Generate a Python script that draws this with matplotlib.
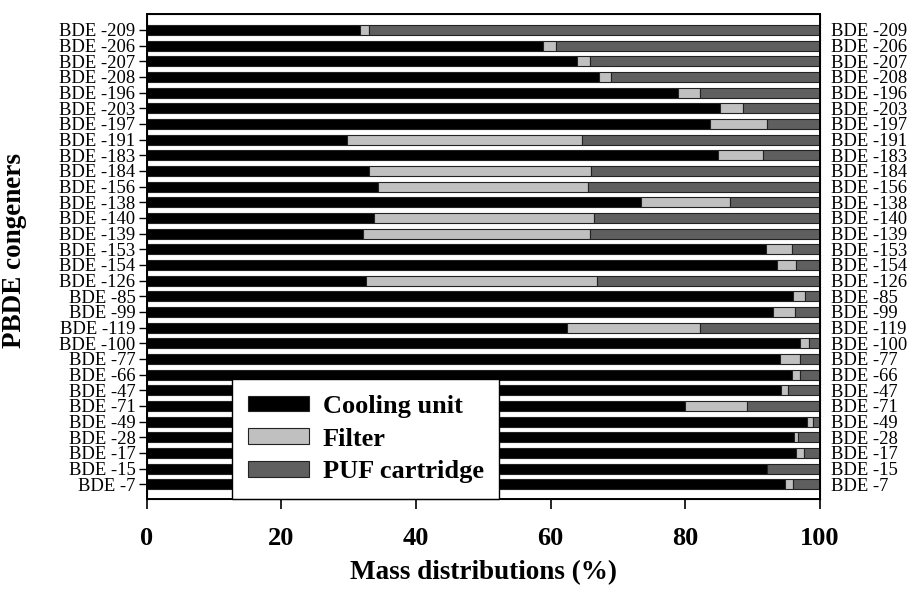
import numpy as np
import matplotlib
matplotlib.use("Agg")
import matplotlib.pyplot as plt

plt.rcParams["font.family"] = ["Liberation Serif", "DejaVu Serif"]

# top to bottom
congeners = [
    "BDE -209", "BDE -206", "BDE -207", "BDE -208", "BDE -196", "BDE -203",
    "BDE -197", "BDE -191", "BDE -183", "BDE -184", "BDE -156", "BDE -138",
    "BDE -140", "BDE -139", "BDE -153", "BDE -154", "BDE -126", "BDE -85",
    "BDE -99", "BDE -119", "BDE -100", "BDE -77", "BDE -66", "BDE -47",
    "BDE -71", "BDE -49", "BDE -28", "BDE -17", "BDE -15", "BDE -7",
]
cooling_unit = [
    31.7, 58.9, 63.9, 67.2, 78.9, 85.1, 83.7, 29.8, 84.8, 33.1,
    34.4, 73.4, 33.8, 32.1, 92.0, 93.6, 32.6, 96.0, 93.1, 62.5,
    97.1, 94.0, 95.8, 94.2, 80.0, 98.1, 96.1, 96.5, 92.1, 94.8,
]
filter_part = [
    1.3, 1.9, 2.0, 1.8, 3.3, 3.5, 8.4, 34.8, 6.8, 32.9,
    31.1, 13.3, 32.7, 33.7, 3.9, 2.9, 34.3, 1.8, 3.2, 19.7,
    1.3, 3.1, 1.3, 1.0, 9.1, 0.9, 0.7, 1.1, 0.0, 1.2,
]
puf_cartridge = [
    67.0, 39.2, 34.1, 31.0, 17.8, 11.4, 7.9, 35.4, 8.4, 34.0,
    34.5, 13.3, 33.5, 34.2, 4.1, 3.5, 33.1, 2.2, 3.7, 17.8,
    1.6, 2.9, 2.9, 4.8, 10.9, 1.0, 3.2, 2.4, 7.9, 4.0,
]

series = ["Cooling unit", "Filter", "PUF cartridge"]
colors = ["#000000", "#c0c0c0", "#5f5f5f"]


def main():
    fig = plt.figure(figsize=(9.1, 5.95), dpi=100)
    ax = fig.add_axes([0.161, 0.161, 0.740, 0.815])

    n = len(congeners)
    y = np.arange(n)[::-1]
    left = np.zeros(n)
    for name, vals, col in zip(series, [cooling_unit, filter_part, puf_cartridge], colors):
        vals = np.array(vals)
        ax.barh(y, vals, left=left, height=0.65, color=col,
                edgecolor="#222222", linewidth=0.8, label=name)
        left += vals

    ax.set_xlim(0, 100)
    ax.set_ylim(-0.95, n - 0.0)
    ax.set_xticks([0, 20, 40, 60, 80, 100])
    ax.set_yticks(y)
    ax.set_yticklabels(congeners, fontsize=13.4)
    for lab in ax.get_xticklabels():
        lab.set_fontweight("bold")
        lab.set_fontsize(19)
    ax.tick_params(axis="x", direction="out", length=7, width=1.2, pad=13)
    ax.tick_params(axis="y", direction="out", length=6, width=1.0, pad=2)

    for s in ax.spines.values():
        s.set_linewidth(1.4)

    ax2 = ax.twinx()
    ax2.set_ylim(ax.get_ylim())
    ax2.set_yticks(y)
    ax2.set_yticklabels(congeners, fontsize=13.4)
    ax2.tick_params(axis="y", length=0, pad=8)

    ax.set_xlabel("Mass distributions (%)", fontsize=19.5, fontweight="bold", labelpad=7)
    ax.set_ylabel("PBDE congeners", fontsize=19.5, fontweight="bold")
    ax.yaxis.set_label_coords(-0.178, 0.512)

    leg = ax.legend(loc="lower left", bbox_to_anchor=(0.127, 0.0),
                    borderaxespad=0, fancybox=False, framealpha=1,
                    edgecolor="black", prop={"weight": "bold", "size": 19},
                    handlelength=2.3, handleheight=0.53, labelspacing=0.37,
                    handletextpad=0.53, borderpad=0.6)
    leg.get_frame().set_linewidth(1.0)

    fig.savefig("out.png", dpi=100)
    plt.close(fig)


if __name__ == "__main__":
    main()
